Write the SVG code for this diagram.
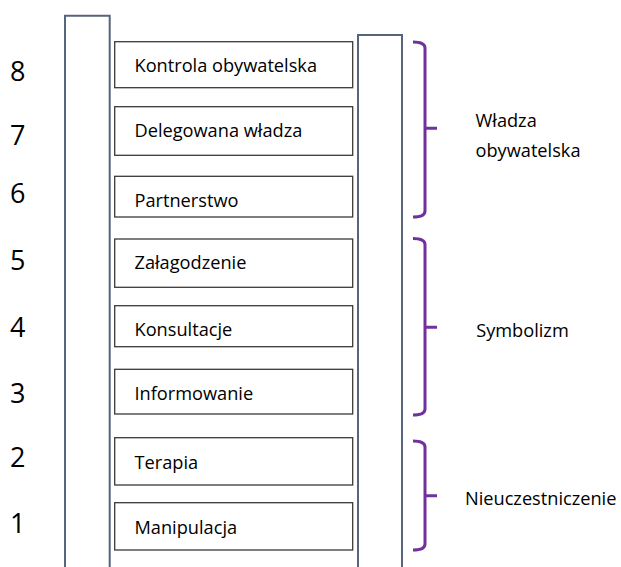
<svg xmlns="http://www.w3.org/2000/svg" width="621" height="567" viewBox="0 0 621 567">
<style>
.rail{fill:none;stroke:#55657B;stroke-width:2}
.box rect{fill:#fff;stroke:#3a3a3a;stroke-width:1.3}
.t{font-family:"Open Sans","Liberation Sans",sans-serif;font-size:18.2px;fill:#000}
.num{font-family:"Open Sans","Liberation Sans",sans-serif;font-size:27px;fill:#000}
.brace{fill:none;stroke:#7030A0;stroke-width:3}
</style>
<rect width="621" height="567" fill="#fff"/>
<g id="rails">
<path class="rail" d="M65,568 V15.7 H109.7 V568"/>
<path class="rail" d="M358,568 V35 H402 V568"/>
</g>
<g id="numbers">
<text class="num" x="10" y="81">8</text>
<text class="num" x="10" y="145">7</text>
<text class="num" x="10" y="203">6</text>
<text class="num" x="10" y="270">5</text>
<text class="num" x="10" y="336.5">4</text>
<text class="num" x="10" y="403">3</text>
<text class="num" x="10" y="466.5">2</text>
<text class="num" x="10" y="533">1</text>
</g>
<g id="n8" class="box"><rect x="114.7" y="41.7" width="238" height="46"/><text class="t" x="134.5" y="71.7">Kontrola obywatelska</text></g>
<g id="n7" class="box"><rect x="114.7" y="106.7" width="238" height="48.6"/><text class="t" x="134.5" y="136.7">Delegowana władza</text></g>
<g id="n6" class="box"><rect x="114.7" y="176.3" width="238" height="40.7"/><text class="t" x="134.5" y="206.7">Partnerstwo</text></g>
<g id="n5" class="box"><rect x="114.7" y="239" width="238" height="48.3"/><text class="t" x="134.5" y="269.3">Załagodzenie</text></g>
<g id="n4" class="box"><rect x="114.7" y="305.7" width="238" height="41"/><text class="t" x="134.5" y="336">Konsultacje</text></g>
<g id="n3" class="box"><rect x="114.7" y="369.3" width="238" height="44.7"/><text class="t" x="134.5" y="400">Informowanie</text></g>
<g id="n2" class="box"><rect x="114.7" y="437.7" width="238" height="47.3"/><text class="t" x="134.5" y="469">Terapia</text></g>
<g id="n1" class="box"><rect x="114.7" y="502.7" width="238" height="47.3"/><text class="t" x="134.5" y="534">Manipulacja</text></g>
<g id="connectors">
<path class="brace" d="M413,42 Q425,42 425,48 V211 Q425,217 413,217 M425,128.3 H437"/>
<path class="brace" d="M413,238.5 Q425,238.5 425,244.5 V409 Q425,415 413,415 M425,327.3 H437"/>
<path class="brace" d="M413,441 Q425,441 425,447 V544 Q425,550 413,550 M425,495.7 H437"/>
</g>
<g id="g1"><text class="t" x="475.5" y="126.7">Władza</text><text class="t" x="475.5" y="156.7">obywatelska</text></g>
<g id="g2"><text class="t" x="476.2" y="336.7">Symbolizm</text></g>
<g id="g3"><text class="t" x="465" y="505">Nieuczestniczenie</text></g>
</svg>
